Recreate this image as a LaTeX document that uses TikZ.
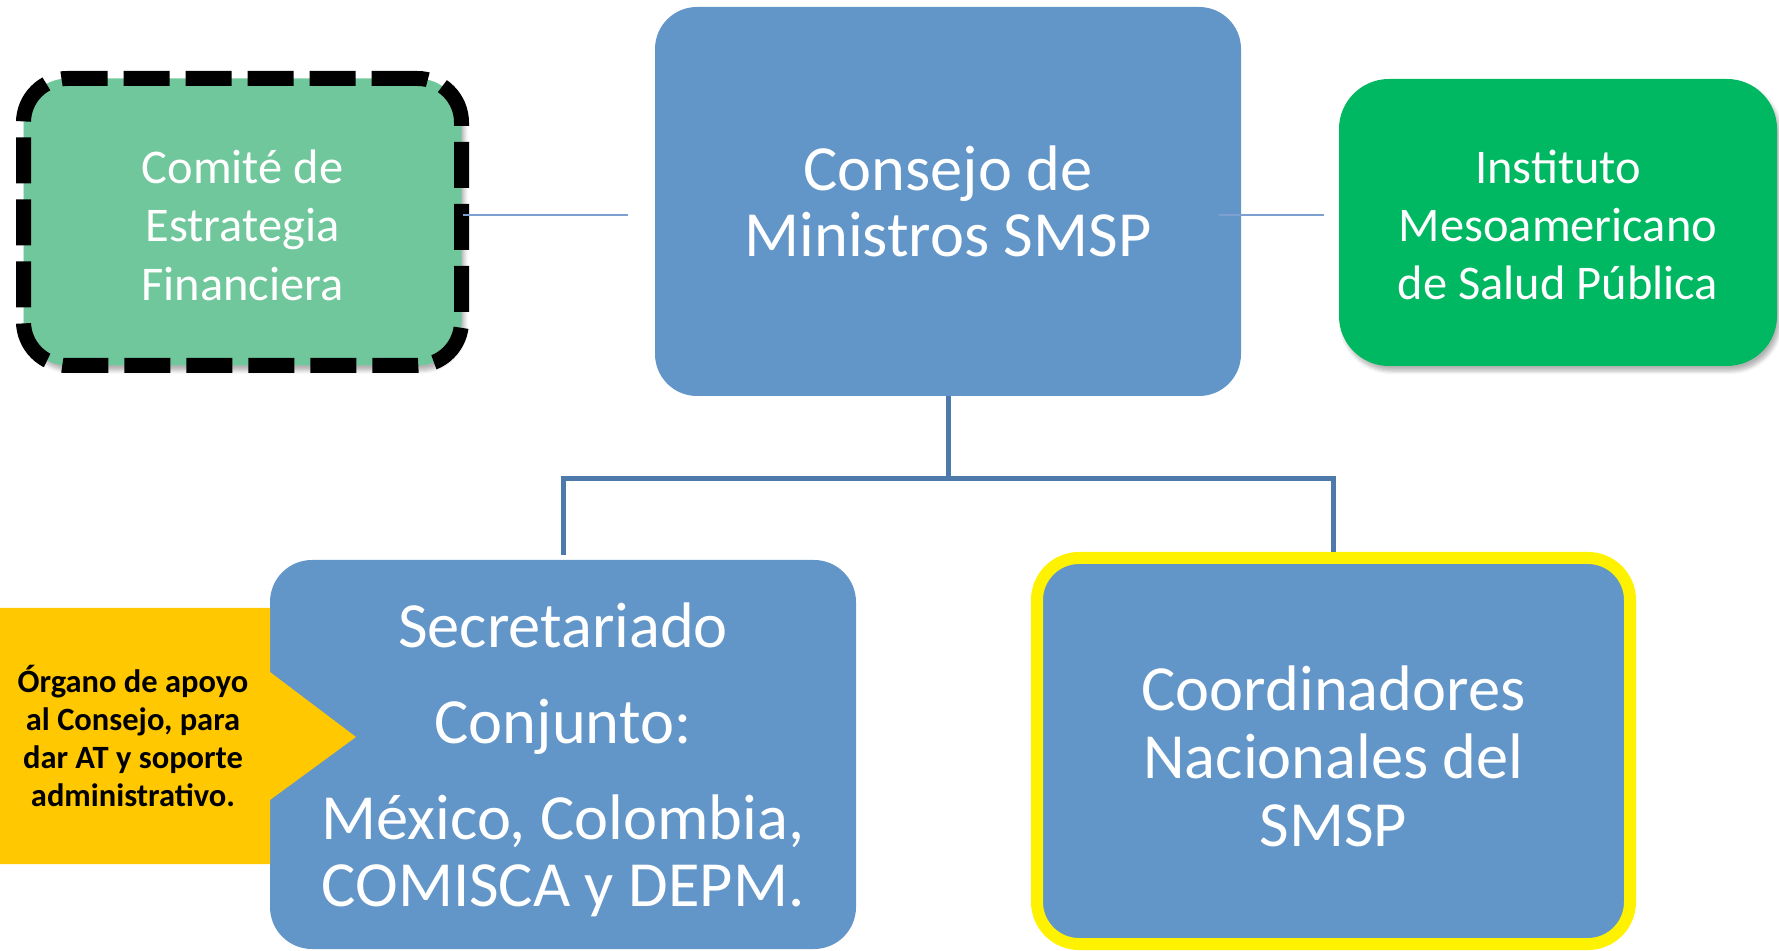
\documentclass[tikz,border=0pt]{standalone}
\usepackage{fontspec}
\setmainfont{Carlito}
\usetikzlibrary{shadows.blur}
\definecolor{boxblue}{RGB}{98,149,200}
\definecolor{comgreen}{RGB}{113,199,156}
\definecolor{instgreen}{RGB}{0,184,98}
\definecolor{calloutorange}{RGB}{255,200,0}
\definecolor{treeblue}{RGB}{77,122,170}
\definecolor{thinblue}{RGB}{125,160,208}
\begin{document}
\begin{tikzpicture}[x=0.5pt,y=-0.5pt,
  bluebox/.style={rounded corners=21pt, fill=boxblue, text=white, align=center, inner sep=0pt,
    minimum width=293pt, minimum height=194.5pt, font=\fontsize{32.2}{33.2}\selectfont},
  sidebox/.style={rounded corners=24pt, text=white, align=center, inner sep=0pt,
    minimum width=219pt, minimum height=143.5pt, font=\fontsize{24.2}{29.2}\selectfont,
    blur shadow={shadow xshift=1.5pt, shadow yshift=-2.5pt, shadow opacity=30, shadow blur steps=6}},
  thinconn/.style={draw=thinblue, line width=1pt},
  treeconn/.style={draw=treeblue, line width=2.5pt},
  whitetext/.style={text=white, align=center, inner sep=0pt}]
\useasboundingbox (0,0) rectangle (1779,951);

% top row
\node[bluebox] (con) at (948,201.5) {Consejo de\\Ministros SMSP};
\node[sidebox, fill=comgreen, draw=black, line width=7.5pt, dash pattern=on 23pt off 8pt, rounded corners=22pt]
  (com) at (242.5,222) {};
\node[whitetext, font=\fontsize{24.2}{29.2}\selectfont] (comtext) at (242.5,225) {Comit\'e de\\Estrategia\\Financiera};
\node[sidebox, fill=instgreen, rounded corners=25pt] (inst) at (1558,222.5) {};
\node[whitetext, font=\fontsize{24.2}{29.2}\selectfont] (insttext) at (1558,225) {Instituto\\Mesoamericano\\de Salud P\'ublica};

% bottom row
\node[bluebox] (sec) at (563,754.5) {};
\node[whitetext, font=\fontsize{32.2}{33.5}\selectfont] (sectext) at (563,760)
  {Secretariado\\[14.5pt]Conjunto:\\[14.5pt]M\'exico, Colombia,\\COMISCA y DEPM.};
\node[bluebox, draw=yellow, line width=6pt, minimum width=296.5pt, minimum height=193pt] (coo) at (1333.5,751) {};
\node[whitetext, font=\fontsize{32.2}{34}\selectfont] (cootext) at (1333.5,756) {Coordinadores\\Nacionales del\\SMSP};

% callout
\coordinate (cA) at (0,608);
\coordinate (cB) at (270,608);
\coordinate (cC) at (270,672);
\coordinate (cTip) at (356,737);
\coordinate (cD) at (270,800);
\coordinate (cE) at (270,864);
\coordinate (cF) at (0,864);
\fill[calloutorange] (cA) -- (cB) -- (cC) -- (cTip) -- (cD) -- (cE) -- (cF) -- cycle;
\node[align=center, inner sep=0pt, font=\bfseries\fontsize{16.25}{18.9}\selectfont] (org) at (133,736)
  {\'Organo de apoyo\\al Consejo, para\\dar AT y soporte\\administrativo.};

% thin connectors
\coordinate (lA) at ([xshift=-3pt,yshift=3.5pt]com.east);
\coordinate (lB) at ([xshift=-13.5pt,yshift=-6.75pt]con.west);
\draw[thinconn] (lA) -- (lB);
\coordinate (rA) at ([xshift=-11pt,yshift=-6.75pt]con.east);
\coordinate (rB) at ([xshift=-7.5pt,yshift=3.75pt]inst.west);
\draw[thinconn] (rA) -- (rB);

% tree
\coordinate (jn) at ([yshift=-41pt]con.south);
\draw[treeconn] (con.south) -- (jn);
\draw[treeconn] ([yshift=2.5pt]sec.north) |- (jn) -| (coo.north);
\end{tikzpicture}
\end{document}
